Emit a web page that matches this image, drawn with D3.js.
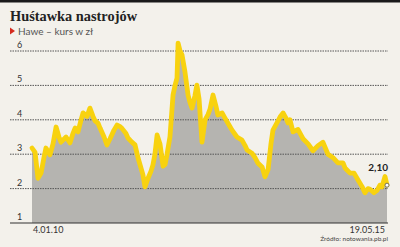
<!DOCTYPE html>
<html>
<head>
<meta charset="utf-8">
<script src="https://cdn.jsdelivr.net/npm/d3@7"></script>
<style>
  html, body { margin: 0; padding: 0; background: #f3f1eb; }
  svg { display: block; }
</style>
</head>
<body>
<svg id="chart" width="400" height="247"></svg>
<script>
// notowania Hawe, kurs w zł
let dates = ['2010-01-04', '2010-01-21', '2010-02-06', '2010-02-23', '2010-03-11', '2010-03-22',
  '2010-04-13', '2010-04-30', '2010-05-17', '2010-06-02', '2010-06-13', '2010-07-11', '2010-08-02',
  '2010-08-18', '2010-08-30', '2010-09-15', '2010-10-02', '2010-10-13', '2010-11-04', '2010-11-20',
  '2010-12-07', '2010-12-18', '2011-01-04', '2011-01-15', '2011-02-06', '2011-02-22', '2011-03-11',
  '2011-04-02', '2011-04-19', '2011-05-05', '2011-05-16', '2011-06-07', '2011-06-18', '2011-07-10',
  '2011-07-27', '2011-08-13', '2011-08-29', '2011-09-09', '2011-09-20', '2011-10-07', '2011-10-23',
  '2011-11-03', '2011-11-14', '2011-11-26', '2011-12-12', '2011-12-29', '2012-01-09', '2012-01-20',
  '2012-02-05', '2012-02-22', '2012-03-04', '2012-03-15', '2012-03-21', '2012-04-01', '2012-04-12',
  '2012-04-28', '2012-05-15', '2012-05-26', '2012-06-06', '2012-06-22', '2012-07-03', '2012-07-15',
  '2012-07-31', '2012-08-17', '2012-09-02', '2012-09-13', '2012-09-30', '2012-10-16', '2012-10-27',
  '2012-11-19', '2012-12-05', '2012-12-16', '2013-01-02', '2013-01-13', '2013-02-09', '2013-03-09',
  '2013-03-26', '2013-04-06', '2013-05-03', '2013-05-20', '2013-06-05', '2013-06-28', '2013-07-14',
  '2013-07-31', '2013-08-16', '2013-08-27', '2013-09-18', '2013-10-05', '2013-10-22', '2013-11-07',
  '2013-11-18', '2013-11-29', '2013-12-16', '2014-01-12', '2014-02-09', '2014-03-09', '2014-04-05',
  '2014-05-03', '2014-05-30', '2014-06-27', '2014-07-25', '2014-08-21', '2014-09-18', '2014-09-29',
  '2014-10-27', '2014-11-18', '2014-12-10', '2015-01-02', '2015-01-17', '2015-02-03', '2015-02-14',
  '2015-03-08', '2015-03-25', '2015-04-10', '2015-04-21', '2015-05-08', '2015-05-19']

let prices = [3.18, 3.05, 2.3, 2.45, 2.9, 3.18,
  2.98, 3.3, 3.79, 3.5, 3.35, 3.5, 3.33,
  3.6, 3.76, 3.65, 4.0, 4.2, 4.1, 4.34,
  4.1, 3.97, 3.9, 3.76, 3.5, 3.27, 3.45,
  3.7, 3.85, 3.8, 3.75, 3.6, 3.47, 3.35,
  3.27, 2.89, 2.6, 2.4, 2.05, 2.3, 2.5,
  2.69, 3.0, 3.56, 3.3, 2.65, 2.7, 3.0,
  3.5, 4.72, 5.0, 5.21, 6.23, 6.0, 5.88,
  5.39, 4.72, 4.5, 4.34, 4.7, 5.01, 4.6,
  3.35, 4.0, 4.15, 4.3, 4.72, 4.4, 4.14,
  4.2, 4.05, 3.95, 3.8, 3.7, 3.5, 3.41,
  3.25, 3.12, 3.03, 2.9, 2.74, 2.63, 2.34,
  2.55, 3.3, 3.7, 3.91, 4.08, 4.2, 4.05,
  3.91, 4.0, 3.65, 3.72, 3.45, 3.3, 3.1,
  3.25, 3.35, 3.0, 2.9, 2.75, 2.75, 2.6,
  2.45, 2.45, 2.25, 2.05, 1.88, 2.0, 1.98,
  1.88, 1.95, 2.1, 2.05, 2.35, 2.10]

let yTicks = [1, 2, 3, 4, 5, 6]
let dateLabels = ['4.01.10', '19.05.15']
let lastLabel = '2,10'

let parse = d3.timeParse('%Y-%m-%d')
let data = dates.map((d, i) => ({date: parse(d), value: prices[i]}))

let svg = d3.select('#chart')

let left = 10, right = 388
let plotLeft = 32, plotRight = 387

let x = d3.scaleTime()
    .domain(d3.extent(data, d => d.date))
    .range([plotLeft, plotRight])

let y = d3.scaleLinear()
    .domain([1, 6])
    .range([223, 51])

// top rule
svg.append('rect')
    .attr('x', 0).attr('y', 0)
    .attr('width', 400).attr('height', 2.5)
    .attr('fill', '#1a1a1a')

svg.append('text')
    .attr('x', 10).attr('y', 21)
    .attr('textLength', 127)
    .attr('lengthAdjust', 'spacingAndGlyphs')
    .style('font-family', '"Liberation Serif", "DejaVu Serif", serif')
    .style('font-weight', 'bold')
    .style('font-size', '15px')
    .attr('fill', '#222')
    .text('Huśtawka nastrojów')

svg.append('path')
    .attr('d', 'M10,27.5 L15,31 L10,34.5 Z')
    .attr('fill', '#d52b1e')

svg.append('text')
    .attr('x', 18).attr('y', 34.5)
    .style('font-family', 'Lato, "Open Sans", sans-serif')
    .style('font-size', '10px')
    .attr('fill', '#555')
    .text('Hawe – kurs w zł')

// area under the line
let area = d3.area()
    .x(d => x(d.date))
    .y0(y(1))
    .y1(d => y(d.value))

svg.append('path')
    .datum(data)
    .attr('d', area)
    .attr('fill', '#b5b4b0')

// grid
let grid = svg.append('g').attr('class', 'grid')
grid.selectAll('line')
    .data(yTicks)
  .enter().append('line')
    .attr('x1', left).attr('x2', right)
    .attr('y1', d => y(d)).attr('y2', d => y(d))
    .attr('stroke', d => d === 1 ? '#333' : '#555')
    .attr('stroke-width', d => d === 1 ? 1.2 : 1)
    .attr('stroke-dasharray', d => d === 1 ? null : '1.5,1')

grid.selectAll('text')
    .data(yTicks)
  .enter().append('text')
    .attr('x', 17).attr('y', d => y(d) - 3)
    .style('font-family', 'Lato, "Open Sans", sans-serif')
    .style('font-size', '9px')
    .attr('fill', '#333')
    .text(d => d)

let line = d3.line()
    .x(d => x(d.date))
    .y(d => y(d.value))

svg.append('path')
    .datum(data)
    .attr('d', line)
    .attr('fill', 'none')
    .attr('stroke', '#f8d20f')
    .attr('stroke-width', 4.8)
    .attr('stroke-linejoin', 'round')
    .attr('stroke-linecap', 'round')

let last = data[data.length - 1]
svg.append('circle')
    .attr('cx', x(last.date)).attr('cy', y(last.value))
    .attr('r', 2)
    .attr('fill', '#fff')
    .attr('stroke', '#555')
    .attr('stroke-width', 0.8)

svg.append('text')
    .attr('x', 388).attr('y', y(last.value) - 14)
    .attr('text-anchor', 'end')
    .style('font-family', 'Lato, "Open Sans", sans-serif')
    .style('font-weight', 'bold')
    .style('font-size', '10px')
    .attr('fill', '#222')
    .text(lastLabel)

svg.append('text')
    .attr('x', x(data[0].date) + 1).attr('y', 233)
    .style('font-family', 'Lato, "Open Sans", sans-serif')
    .style('font-size', '9px')
    .attr('fill', '#333')
    .text(dateLabels[0])

svg.append('text')
    .attr('x', 385).attr('y', 233)
    .attr('text-anchor', 'end')
    .style('font-family', 'Lato, "Open Sans", sans-serif')
    .style('font-size', '9px')
    .attr('fill', '#333')
    .text(dateLabels[1])

svg.append('text')
    .attr('x', 388).attr('y', 241)
    .attr('text-anchor', 'end')
    .style('font-family', 'Lato, "Open Sans", sans-serif')
    .style('font-size', '6.5px')
    .attr('fill', '#444')
    .text('Źródło: notowania.pb.pl')
</script>
</body>
</html>
